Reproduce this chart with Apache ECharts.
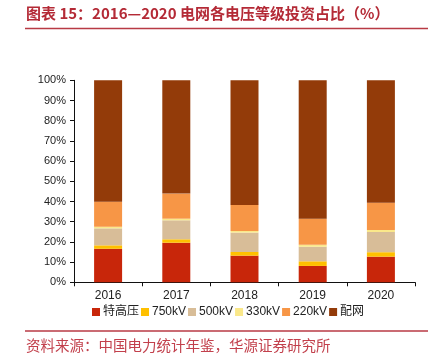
<!DOCTYPE html>
<html>
<head>
<meta charset="utf-8">
<script src="https://cdn.jsdelivr.net/npm/echarts@6/dist/echarts.min.js"></script>
<style>html,body{margin:0;padding:0;background:#fff;}#c{width:428px;height:362px;}</style>
</head>
<body>
<div id="c"></div>
<script>
const categories = ['2016', '2017', '2018', '2019', '2020'];
const seriesNames = ['特高压', '750kV', '500kV', '330kV', '220kV', '配网'];
const uhv = [16.6, 19.6, 13.2, 8.1, 12.7];
const kv750 = [1.7, 1.7, 1.8, 2.3, 2.2];
const kv500 = [8.4, 9.4, 9.6, 7.2, 10.0];
const kv330 = [0.8, 0.8, 0.8, 1.0, 1.0];
const kv220 = [12.4, 12.4, 12.9, 12.9, 13.5];
const dist = [60.1, 56.1, 61.7, 68.5, 60.6];
const yTicks = ['0%', '10%', '20%', '30%', '40%', '50%', '60%', '70%', '80%', '90%', '100%'];
const colors = ['#c8260a', '#ffc000', '#d8bd98', '#fae88a', '#f79646', '#933b09'];
const values = [uhv, kv750, kv500, kv330, kv220, dist];

const chart = echarts.init(document.getElementById('c'), null, {renderer: 'canvas'});
const font = 'Liberation Sans, Arial, Helvetica, sans-serif';
chart.setOption({
  animation: false,
  color: colors,
  grid: {left: 74, right: 13, top: 80.3, bottom: 79.7},
  xAxis: {
    type: 'category',
    data: categories,
    axisLine: {lineStyle: {color: '#111', width: 1}},
    axisTick: {show: true, length: 4, lineStyle: {color: '#111'}},
    axisLabel: {color: '#222', fontSize: 12, fontFamily: font, margin: 7}
  },
  yAxis: {
    type: 'value', min: 0, max: 100, interval: 10,
    axisLine: {show: true, lineStyle: {color: '#111', width: 1}},
    axisTick: {show: true, length: 4, lineStyle: {color: '#111'}},
    splitLine: {show: false},
    axisLabel: {color: '#222', fontSize: 11, fontFamily: font, margin: 8,
      formatter: function (v) { return yTicks[Math.round(v / 10)]; }}
  },
  legend: {
    left: 87, top: 301,
    itemWidth: 8, itemHeight: 8, itemGap: 2,
    icon: 'rect',
    textStyle: {fontSize: 12, color: '#222', fontFamily: 'Liberation Sans, Arial, "Noto Sans CJK SC", sans-serif', padding: [0, 0, 0, -2]},
    data: seriesNames
  },
  series: seriesNames.map((n, i) => ({
    name: n, type: 'bar', stack: 'total', barWidth: 28,
    data: values[i],
    itemStyle: {color: colors[i]}
  })),
  graphic: [
    {type: 'text', left: 26, top: 6, style: {text: '图表 15：2016—2020 电网各电压等级投资占比（%）', fontSize: 15, fontWeight: 'bold', fill: '#b42a36', fontFamily: '"Noto Sans CJK SC", sans-serif'}},
    {type: 'line', shape: {x1: 25, y1: 28.5, x2: 428, y2: 28.5}, style: {stroke: '#b83a44', lineWidth: 1.3}},
    {type: 'line', shape: {x1: 25, y1: 331, x2: 428, y2: 331}, style: {stroke: '#b83a44', lineWidth: 1.3}},
    {type: 'text', left: 26, top: 338, style: {text: '资料来源：中国电力统计年鉴，华源证券研究所', fontSize: 14.5, fill: '#c2404c', fontFamily: '"Noto Sans CJK SC", sans-serif'}}
  ]
});
</script>
</body>
</html>
